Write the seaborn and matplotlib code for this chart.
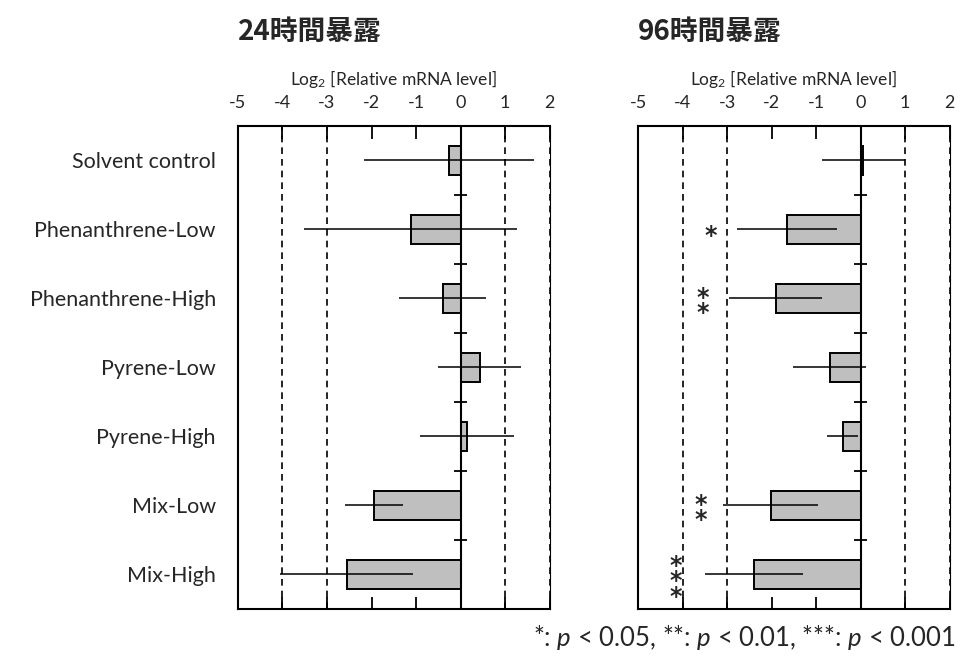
import numpy as np
import pandas as pd
import matplotlib
matplotlib.use('Agg')
from matplotlib import pyplot as plt
import seaborn as sns

sns.set_theme(style='white')
plt.rcParams['font.family'] = ['Lato', 'Noto Sans CJK JP', 'DejaVu Sans']
plt.rcParams['mathtext.fontset'] = 'custom'
plt.rcParams['mathtext.rm'] = 'Lato'
plt.rcParams['mathtext.it'] = 'Lato:italic'

# data
groups = ['Solvent control', 'Phenanthrene-Low', 'Phenanthrene-High',
          'Pyrene-Low', 'Pyrene-High', 'Mix-Low', 'Mix-High']
titles = ['24時間暴露', '96時間暴露']
mean_24h = [-0.26, -1.12, -0.40, 0.43, 0.15, -1.95, -2.56]
sd_24h = [1.90, 2.40, 0.98, 0.93, 1.05, 0.65, 1.49]
mean_96h = [0.06, -1.66, -1.91, -0.69, -0.40, -2.02, -2.39]
sd_96h = [0.93, 1.12, 1.05, 0.82, 0.35, 1.06, 1.10]
stars_96h = ['', '*', '**', '', '', '**', '***']
star_x_96h = [0, -3.37, -3.55, 0, 0, -3.6, -4.15]
xticks = [-5, -4, -3, -2, -1, 0, 1, 2]

fig = plt.figure(figsize=(9.67, 6.59), dpi=100)
axes = [fig.add_axes([0.2461, 0.0759, 0.3222, 0.7329]),
        fig.add_axes([0.6598, 0.0759, 0.3222, 0.7329])]
panels = [(mean_24h, sd_24h, None, None), (mean_96h, sd_96h, stars_96h, star_x_96h)]

for k, (ax, (m, s, st, stx)) in enumerate(zip(axes, panels)):
    df = pd.DataFrame({'group': groups, 'value': m, 'sd': s})
    sns.barplot(data=df, x='value', y='group', orient='h', color='#bfbfbf',
                edgecolor='black', linewidth=1.4, width=0.42, saturation=1,
                errorbar=None, ax=ax, zorder=3)
    ax.errorbar(df['value'], np.arange(len(groups)), xerr=df['sd'], fmt='none',
                ecolor='black', elinewidth=1.1, capsize=0, zorder=4)
    ax.set_xlim(-5, 2)
    ax.set_ylim(len(groups) - 0.5, -0.5)
    # dashed gridlines
    for xv in [-4, -3, 1, 2]:
        ax.axvline(xv, color='black', ls=(0, (4, 3)), lw=1.2, zorder=1)
    # zero axis with category boundary ticks
    ax.axvline(0, color='black', lw=1.5, zorder=5)
    bounds = np.arange(len(groups) + 1) - 0.5
    ax.hlines(bounds, -0.15, 0.15, color='black', lw=1.3, zorder=5)
    ax.xaxis.tick_top()
    ax.xaxis.set_label_position('top')
    ax.set_xticks(xticks)
    ax.set_xticklabels([str(v) for v in xticks], fontsize=13)
    ax.tick_params(axis='x', which='both', top=True, bottom=True, direction='in',
                   length=9, width=1.3, pad=11, color='black')
    ax.set_xlabel('Log$_2$ [Relative mRNA level]', fontsize=12.5, labelpad=7)
    ax.set_ylabel('')
    ax.tick_params(axis='y', left=False, length=0)
    if k == 0:
        ax.set_yticks(range(len(groups)))
        ax.set_yticklabels(groups, fontsize=15.5)
        ax.tick_params(axis='y', pad=16)
    else:
        ax.set_yticks([])
    for sp in ax.spines.values():
        sp.set_color('black')
        sp.set_linewidth(1.5)
    ax.spines['right'].set_linewidth(0.8)
    ax.text(0.0, 1.195, titles[k], transform=ax.transAxes, fontsize=20,
            fontweight='bold', family=['Noto Sans CJK JP'], ha='left', va='center')
    if st is not None:
        for i, (lab, xv) in enumerate(zip(st, stx)):
            if lab:
                ax.text(xv, i + 0.1, '\n'.join(lab), ha='center', va='center',
                        fontsize=17, linespacing=0.55, family=['DejaVu Sans'],
                        fontweight='bold')

fig.text(0.988, 0.032, '*: $p$ < 0.05, **: $p$ < 0.01, ***: $p$ < 0.001',
         ha='right', va='center', fontsize=18.5)

plt.savefig('out.png', dpi=100)
